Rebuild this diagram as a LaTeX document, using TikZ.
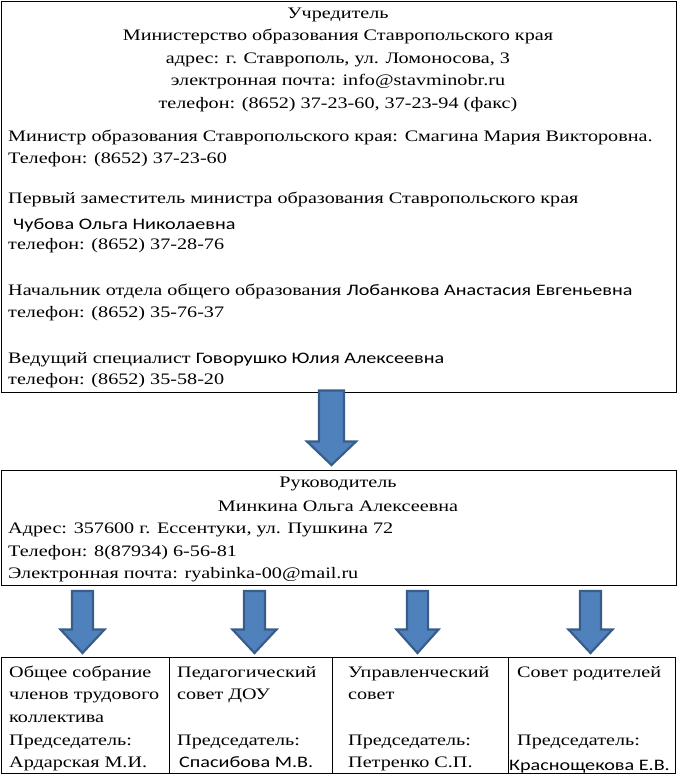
\documentclass[tikz,border=0pt]{standalone}
\usepackage{fontspec}
\setmainfont{Liberation Serif}[FakeStretch=1.26]
\newfontfamily\calibri{Carlito}[FakeStretch=1.26]
\usepackage{tikz}
\usetikzlibrary{calc}
\definecolor{arrfill}{HTML}{4F81BD}
\definecolor{arrdraw}{HTML}{385D8A}
% block arrow: shaft half width, head half width, top point, tip point
\newcommand{\blockarrow}[4]{%
  \filldraw[blockarr] let \p1=(#3), \p2=(#4) in
    (\x1-#1,\y1) -- (\x1+#1,\y1) -- (\x1+#1,\y2+23.5pt) -- (\x1+#2,\y2+23.5pt)
    -- (\x2,\y2) -- (\x1-#2,\y2+23.5pt) -- (\x1-#1,\y2+23.5pt) -- cycle;}

\begin{document}
\begin{tikzpicture}[x=1pt, y=-1pt,
  font=\fontsize{16}{22}\selectfont,
  panel/.style   ={rectangle, draw=black, line width=1pt, inner sep=0pt,
                   anchor=north west},
  txt/.style     ={inner sep=0pt, anchor=base west},
  ctxt/.style    ={inner sep=0pt, anchor=base},
  blockarr/.style={fill=arrfill, draw=arrdraw, line width=2.2pt, line join=miter}
]
\useasboundingbox (0,0) rectangle (678,774);
% ---- Boxes -----------------------------------------------------------------
\node[panel, minimum width=675pt, minimum height=391pt] (founder) at (1,1)   {};
\node[panel, minimum width=675pt, minimum height=115pt] (head)    at (1,470) {};
\node[panel, minimum width=168pt, minimum height=116pt] (staff)   at (1,657)   {};
\node[panel, minimum width=163pt, minimum height=116pt] (pedag)   at (169,657) {};
\node[panel, minimum width=176pt, minimum height=116pt] (manage)  at (332,657) {};
\node[panel, minimum width=167pt, minimum height=116pt] (parents) at (508,657) {};
% ---- Founder ---------------------------------------------------------------
\node[ctxt] (f1) at (338,18)    {Учредитель};
\node[ctxt] (f2) at (338,40.5)  {Министерство образования Ставропольского края};
\node[ctxt] (f3) at (338,63)    {адрес: г. Ставрополь, ул. Ломоносова, 3};
\node[ctxt] (f4) at (338,85.5)  {электронная почта: info@stavminobr.ru};
\node[ctxt] (f5) at (338,108)   {телефон: (8652) 37-23-60, 37-23-94 (факс)};
\node[txt]  (f6) at (8,141.5)   {Министр образования Ставропольского края: Смагина Мария Викторовна.};
\node[txt]  (f7) at (8,163.5)   {Телефон: (8652) 37-23-60};
\node[txt]  (f8) at (8,203)     {Первый заместитель министра образования Ставропольского края};
\node[txt]  (f9) at (13,229.5)  {\calibri Чубова Ольга Николаевна};
\node[txt]  (f10) at (8,249)    {телефон: (8652) 37-28-76};
\node[txt]  (f11) at (8,295)    {Начальник отдела общего образования {\calibri Лобанкова Анастасия Евгеньевна}};
\node[txt]  (f12) at (8,317)    {телефон: (8652) 35-76-37};
\node[txt]  (f13) at (8,363)    {Ведущий специалист {\calibri Говорушко Юлия Алексеевна}};
\node[txt]  (f14) at (8,384)    {телефон: (8652) 35-58-20};
% ---- Head ------------------------------------------------------------------
\node[ctxt] (h1) at (338,487)   {Руководитель};
\node[ctxt] (h2) at (338,511)   {Минкина Ольга Алексеевна};
\node[txt]  (h3) at (8,533)     {Адрес: 357600 г. Ессентуки, ул. Пушкина 72};
\node[txt]  (h4) at (8,556)     {Телефон: 8(87934) 6-56-81};
\node[txt]  (h5) at (8,578)     {Электронная почта: ryabinka-00@mail.ru};
% ---- Councils --------------------------------------------------------------
\node[txt] (s1) at (9,677)      {Общее собрание};
\node[txt] (s2) at (9,699.5)    {членов трудового};
\node[txt] (s3) at (9,722)      {коллектива};
\node[txt] (s4) at (9,745)      {Председатель:};
\node[txt] (s5) at (9,767)      {Ардарская М.И.};
\node[txt] (p1) at (177,677)    {Педагогический};
\node[txt] (p2) at (177,699.5)  {совет ДОУ};
\node[txt] (p3) at (177,745)    {Председатель:};
\node[txt] (p4) at (179,767)    {\calibri Спасибова М.В.};
\node[txt] (m1) at (348,677)    {Управленческий};
\node[txt] (m2) at (348,699.5)  {совет};
\node[txt] (m3) at (348,745)    {Председатель:};
\node[txt] (m4) at (348,767)    {Петренко С.П.};
\node[txt] (r1) at (517,677)    {Совет родителей};
\node[txt] (r2) at (517,745)    {Председатель:};
\node[txt] (r3) at (509,770)    {\calibri Краснощекова Е.В.};
% ---- Arrows ----------------------------------------------------------------
\blockarrow{12.5pt}{24.5pt}{$(founder.south)+(-7.5,-2.5)$}{$(head.north)+(-7.5,-5)$}
\blockarrow{10.5pt}{22pt}{$(staff.north |- head.south)+(-3,5)$}{$(staff.north)+(-3,-4)$}
\blockarrow{10.5pt}{22pt}{$(pedag.north |- head.south)+(3.5,5)$}{$(pedag.north)+(3.5,-4)$}
\blockarrow{10.5pt}{21pt}{$(manage.north |- head.south)+(-3,5)$}{$(manage.north)+(-3,-4)$}
\blockarrow{10.5pt}{22pt}{$(parents.north |- head.south)+(-1.5,5)$}{$(parents.north)+(-1.5,-4)$}
\end{tikzpicture}
\end{document}
